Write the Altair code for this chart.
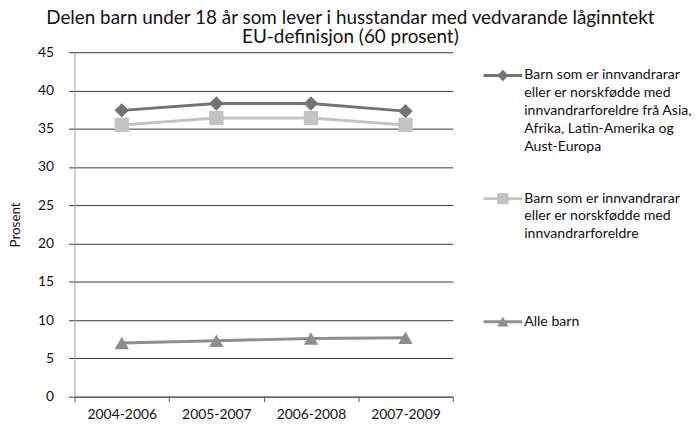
import altair as alt
import pandas as pd

periods = ["2004-2006", "2005-2007", "2006-2008", "2007-2009"]
series_names = [
    "Barn som er innvandrarar eller er norskfødde med innvandrarforeldre frå Asia, Afrika, Latin-Amerika og Aust-Europa",
    "Barn som er innvandrarar eller er norskfødde med innvandrarforeldre",
    "Alle barn",
]
legend_labels = [
    "Barn som er innvandrarar\neller er norskfødde med\ninnvandrarforeldre frå Asia,\nAfrika, Latin-Amerika og\nAust-Europa",
    "Barn som er innvandrarar\neller er norskfødde med\ninnvandrarforeldre",
    "Alle barn",
]
asia_afrika = [37.4, 38.3, 38.3, 37.3]
innvandrar = [35.5, 36.4, 36.4, 35.5]
alle_barn = [7.0, 7.3, 7.6, 7.7]

colors = ["#737373", "#c3c3c3", "#8e8e8e"]
shapes = ["diamond", "square", "triangle-up"]

rows = []
for name, vals in zip(series_names, [asia_afrika, innvandrar, alle_barn]):
    for p, v in zip(periods, vals):
        rows.append({"periode": p, "serie": name, "prosent": v})
df = pd.DataFrame(rows)
legend_df = pd.DataFrame({"serie": series_names, "etikett": legend_labels})

color_scale = alt.Scale(domain=series_names, range=colors)
shape_scale = alt.Scale(domain=series_names, range=shapes)

x = alt.X("periode:N", sort=periods, title=None,
          scale=alt.Scale(paddingInner=0, paddingOuter=0),
          axis=alt.Axis(labelAngle=0, tickBand="extent", domainColor="#555555",
                        tickColor="#555555", tickSize=5, labelPadding=6,
                        labelFontSize=14, labelColor="#111111", grid=False))
y = alt.Y("prosent:Q", title="Prosent",
          scale=alt.Scale(domain=[0, 45]),
          axis=alt.Axis(values=list(range(0, 50, 5)), domainColor="#a0a0a0",
                        gridColor="#3a3a3a", tickColor="#3a3a3a", tickSize=6,
                        labelPadding=15, labelFontSize=14, labelColor="#111111",
                        titleFontSize=13.5, titleFontWeight="normal", titleColor="#111111",
                        titlePadding=15))

lines = alt.Chart(df).mark_line(strokeWidth=3).encode(
    x=x, y=y,
    color=alt.Color("serie:N", scale=color_scale, legend=None),
    detail="serie:N",
)
points = alt.Chart(df).mark_point(filled=True, opacity=1, size=210).encode(
    x=x, y=y,
    color=alt.Color("serie:N", scale=color_scale, legend=None),
    shape=alt.Shape("serie:N", scale=shape_scale, legend=None),
)
plot = alt.layer(lines, points).properties(width=381, height=347)

# legend panel
leg_y = alt.Y("serie:N", sort=series_names, axis=None,
              scale=alt.Scale(type="point", domain=series_names, padding=0,
                              range=[23.5, 271.5]))
leg_color = alt.Color("serie:N", scale=color_scale, legend=None)
leg_rule = alt.Chart(legend_df).mark_rule(strokeWidth=3).encode(
    x=alt.value(0), x2=alt.value(39), y=leg_y, color=leg_color,
)
leg_point = alt.Chart(legend_df).mark_point(filled=True, opacity=1, size=130).encode(
    x=alt.value(19.5), y=leg_y, color=leg_color,
    shape=alt.Shape("serie:N", scale=shape_scale, legend=None),
)
leg_text = alt.Chart(legend_df).mark_text(
    align="left", baseline="line-top", lineBreak="\n", lineHeight=18,
    fontSize=14.2, color="#111111", dy=-9,
).encode(x=alt.value(41), y=leg_y, text="etikett:N")
legend_panel = alt.layer(leg_rule, leg_point, leg_text).properties(width=170, height=347)

chart = alt.hconcat(plot, legend_panel, spacing=28).resolve_scale(
    y="independent", x="independent"
).properties(
    padding={"left": 0, "top": 0, "right": 0, "bottom": 0},
    title=alt.TitleParams(
        ["Delen barn under 18 år som lever i husstandar med vedvarande låginntekt",
         "EU-definisjon (60 prosent)"],
        fontSize=19, fontWeight="normal", color="#111111", anchor="middle",
        frame="bounds", lineHeight=19, offset=-2, baseline="top",
    ),
).configure(font="Lato").configure_view(stroke=None)

chart.save("out.html", embed_options={"renderer": "svg", "actions": False})
